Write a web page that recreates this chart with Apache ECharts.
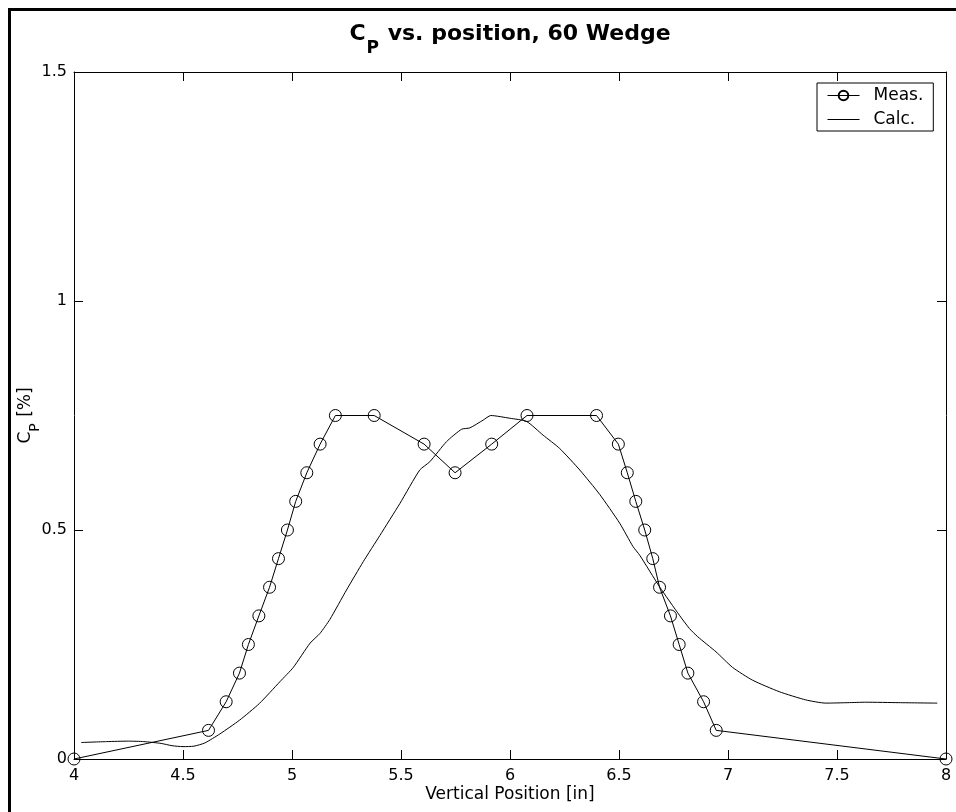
<!DOCTYPE html>
<html>
<head>
<meta charset="utf-8">
<title>Cp vs. position, 60 Wedge</title>
<script src="https://cdn.jsdelivr.net/npm/echarts@6/dist/echarts.min.js"></script>
<style>
  html, body { margin: 0; padding: 0; background: #fff; }
  #chart { width: 956px; height: 812px; }
</style>
</head>
<body>
<div id="chart"></div>
<script>
// Measured pressure coefficient (circles)
const measX = [4.0, 4.617, 4.698, 4.759, 4.800, 4.848, 4.897, 4.938, 4.979, 5.017, 5.068, 5.129, 5.199,
               5.377, 5.606, 5.748, 5.916, 6.078, 6.397, 6.497, 6.538, 6.577, 6.618, 6.655, 6.686,
               6.736, 6.776, 6.816, 6.888, 6.946, 8.0];
const measY = [0, 0.0625, 0.125, 0.1875, 0.25, 0.3125, 0.375, 0.4375, 0.5, 0.5625, 0.625, 0.6875, 0.75,
               0.75, 0.6875, 0.625, 0.6875, 0.75, 0.75, 0.6875, 0.625, 0.5625, 0.5, 0.4375, 0.375,
               0.3125, 0.25, 0.1875, 0.125, 0.0625, 0];

// Calculated pressure coefficient (solid line)
const calcX = [4.033, 4.15, 4.25, 4.32, 4.40, 4.45, 4.50, 4.55, 4.60, 4.67, 4.76, 4.85, 4.945, 5.006,
               5.083, 5.128, 5.174, 5.25, 5.327, 5.403, 5.495, 5.586, 5.632, 5.709, 5.778, 5.816, 5.877,
               5.912, 5.999, 6.076, 6.152, 6.228, 6.32, 6.411, 6.503, 6.564, 6.595, 6.686, 6.777, 6.823,
               6.861, 6.945, 7.021, 7.113, 7.235, 7.357, 7.449, 7.55, 7.632, 7.784, 7.96];
const calcY = [0.036, 0.038, 0.039, 0.038, 0.034, 0.029, 0.027, 0.028, 0.035, 0.055, 0.085, 0.121, 0.169,
               0.200, 0.253, 0.274, 0.305, 0.369, 0.431, 0.488, 0.558, 0.631, 0.649, 0.693, 0.720, 0.723,
               0.740, 0.750, 0.744, 0.737, 0.707, 0.678, 0.631, 0.578, 0.515, 0.464, 0.445, 0.376, 0.314,
               0.285, 0.267, 0.234, 0.200, 0.172, 0.147, 0.129, 0.122, 0.123, 0.124, 0.123, 0.122];

// Axis ranges and tick spacing
const xRange = { min: 4, max: 8, interval: 0.5 };
const yRange = { min: 0, max: 1.5, interval: 0.5 };

const FONT = 'DejaVu Sans';
const pairs = (xs, ys) => xs.map((x, i) => [x, ys[i]]);

const chart = echarts.init(document.getElementById('chart'), null, { renderer: 'canvas' });

const tickStyle = { show: true, inside: true, length: 9, lineStyle: { color: '#000', width: 1 } };
const lineStyle = { show: true, onZero: false, lineStyle: { color: '#000', width: 1 } };

chart.setOption({
  animation: false,
  backgroundColor: '#fff',
  textStyle: { fontFamily: FONT, color: '#000' },
  title: {
    text: '{a|C}{s|P}{a| vs. position, 60 Wedge}',
    left: 510,
    top: 23,
    textAlign: 'center',
    padding: 0,
    textStyle: {
      rich: {
        a: { fontFamily: FONT, fontSize: 22, fontWeight: 'bold', color: '#000', lineHeight: 26, verticalAlign: 'top' },
        s: { fontFamily: FONT, fontSize: 17, fontWeight: 'bold', color: '#000', lineHeight: 17, verticalAlign: 'top', padding: [17, 1, 0, 1] }
      }
    }
  },
  legend: {
    orient: 'vertical',
    left: 817,
    top: 83,
    padding: [4, 10, 3, 10],
    itemGap: 7,
    itemWidth: 32,
    itemHeight: 12,
    symbolKeepAspect: true,
    borderColor: '#000',
    borderWidth: 1,
    borderRadius: 0,
    backgroundColor: '#fff',
    lineStyle: { width: 1, color: '#000' },
    textStyle: { fontFamily: FONT, fontSize: 17, color: '#000', padding: [0, 0, 0, 9] },
    data: [
      { name: 'Meas.' },
      { name: 'Calc.', icon: 'path://M0,0L32,0L32,1L0,1Z', itemStyle: { color: '#000' } }
    ]
  },
  grid: { left: 74, right: 10, top: 72, bottom: 53, containLabel: false },
  xAxis: [
    {
      type: 'value', position: 'bottom', ...xRange,
      name: 'Vertical Position [in]', nameLocation: 'middle', nameGap: 27,
      nameMoveOverlap: false,
      nameTextStyle: { fontFamily: FONT, fontSize: 17, color: '#000' },
      axisLine: lineStyle, axisTick: tickStyle, splitLine: { show: false },
      axisLabel: { fontFamily: FONT, fontSize: 16, color: '#000', margin: 9 }
    },
    {
      type: 'value', position: 'top', ...xRange,
      axisLine: lineStyle, axisTick: tickStyle, splitLine: { show: false },
      axisLabel: { show: false }
    }
  ],
  yAxis: [
    {
      type: 'value', position: 'left', ...yRange,
      name: '{a|C}{s|P}{a| [%]}', nameLocation: 'middle', nameGap: 37,
      nameMoveOverlap: false,
      nameTextStyle: {
        rich: {
          a: { fontFamily: FONT, fontSize: 17, color: '#000', lineHeight: 20, verticalAlign: 'top' },
          s: { fontFamily: FONT, fontSize: 14, color: '#000', lineHeight: 14, verticalAlign: 'top', padding: [11, 1, 0, 0] }
        }
      },
      axisLine: lineStyle, axisTick: tickStyle, splitLine: { show: false },
      axisLabel: { fontFamily: FONT, fontSize: 16, color: '#000', margin: 7 }
    },
    {
      type: 'value', position: 'right', ...yRange,
      axisLine: lineStyle, axisTick: tickStyle, splitLine: { show: false },
      axisLabel: { show: false }
    }
  ],
  series: [
    {
      name: 'Meas.',
      type: 'line',
      data: pairs(measX, measY),
      symbol: 'circle',
      symbolSize: 12,
      showAllSymbol: true,
      clip: false,
      lineStyle: { color: '#000', width: 1 },
      itemStyle: { color: 'rgba(0,0,0,0)', borderColor: '#000', borderWidth: 1 },
      emphasis: { disabled: true },
      z: 3
    },
    {
      name: 'Calc.',
      type: 'line',
      data: pairs(calcX, calcY),
      symbol: 'none',
      smooth: 0.2,
      lineStyle: { color: '#000', width: 1 },
      itemStyle: { color: '#000' },
      emphasis: { disabled: true },
      z: 2
    }
  ],
  graphic: [
    {
      type: 'polyline',
      silent: true,
      shape: { points: [[9.5, 812], [9.5, 9.5], [956, 9.5]] },
      style: { stroke: '#000', lineWidth: 3, fill: null }
    }
  ]
});
</script>
</body>
</html>
